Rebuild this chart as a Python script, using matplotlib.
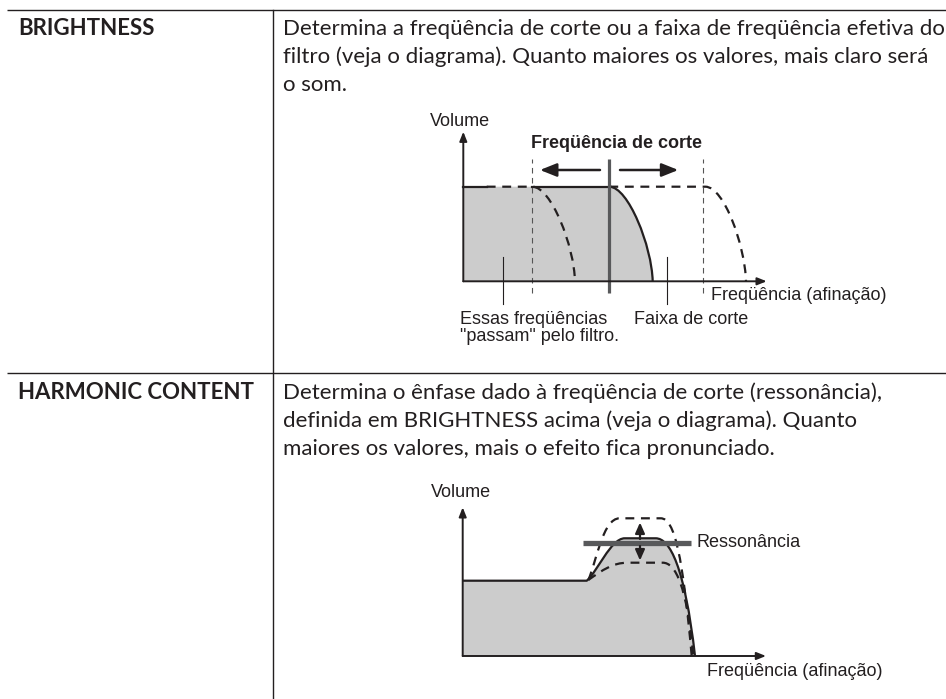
import matplotlib
matplotlib.use("Agg")
import matplotlib.pyplot as plt
from matplotlib.path import Path
from matplotlib.patches import PathPatch

W, H = 946, 699

# ---- table text ----
row_titles = ["BRIGHTNESS", "HARMONIC CONTENT"]
row1_lines = [
    "Determina a freqüência de corte ou a faixa de freqüência efetiva do",
    "filtro (veja o diagrama). Quanto maiores os valores, mais claro será",
    "o som.",
]
row2_lines = [
    "Determina o ênfase dado à freqüência de corte (ressonância),",
    "definida em BRIGHTNESS acima (veja o diagrama). Quanto",
    "maiores os valores, mais o efeito fica pronunciado.",
]
row_top = [9.5, 372.7]         # px from top
col_split = 272.7
baseline_first = [35.0, 399.0]
line_step = 28

# ---- diagram 1 (brightness), units = px from the origin ----
d1_origin = (463.3, 281.3)
d1_xmax, d1_ymax = 303.4, 149.6
d1_level = 94.6
d1_cut = 146.0                    # current cutoff (solid)
d1_cut_low, d1_cut_high = 68.7, 240.0
d1_cur = [(146, 94.6), (165, 94.6), (188.5, 35), (189.4, 0)]
d1_low = [(69, 94.6), (88, 94.6), (110.8, 35), (111.7, 0)]
d1_high = [(242, 94.6), (261, 94.6), (281.8, 35), (282.7, 0)]
d1_low_dash_start = 23.4
d1_pointers = [40.0, 204.0]

# ---- diagram 2 (harmonic content) ----
d2_origin = (462.7, 656.0)
d2_xmax, d2_ymax = 303.3, 148.7
d2_level = 75.3
d2_solid_up = [(124, 75.3), (134, 83), (148, 117.7), (162, 117.7)]
d2_solid_dn = [(193, 117.7), (207, 117.7), (222, 90), (232.3, 0)]
d2_high_up = [(125.6, 76), (134, 95), (140, 137.7), (157, 137.7)]
d2_high_dn = [(198, 137.7), (212, 137.7), (220, 100), (229, 0)]
d2_low_up = [(125.6, 76), (140, 86), (150, 93.3), (165, 93.3)]
d2_low_dn = [(200, 93.3), (213, 93.3), (224, 70), (230.6, 0)]
d2_bar = (120.6, 228.0, 113.3)
d2_arrow_x = 177.3

ink = "#231f20"
fill_grey = "#cccccc"
mid_grey = "#58595b"
body_font = ["Lato", "DejaVu Sans"]
diag_font = ["Liberation Sans", "DejaVu Sans"]

fig = plt.figure(figsize=(W / 100, H / 100), dpi=100)
ax = fig.add_axes([0, 0, 1, 1])
ax.set_xlim(0, W)
ax.set_ylim(H, 0)
ax.axis("off")

# table rules
for y in row_top:
    ax.plot([7.3, W], [y, y], color=ink, lw=1.0, solid_capstyle="butt")
ax.plot([col_split, col_split], [row_top[0], H], color=ink, lw=1.0)

for title, lines, b0 in zip(row_titles, [row1_lines, row2_lines], baseline_first):
    ax.text(18, b0, title, family=body_font, weight="bold", fontsize=16,
            va="baseline", ha="left", color=ink)
    for i, ln in enumerate(lines):
        ax.text(283, b0 + i * line_step, ln, family=body_font, fontsize=16,
                va="baseline", ha="left", color=ink)


def diagram_axes(origin, xmax, ymax):
    ox, oy = origin
    a = fig.add_axes([ox / W, 1 - oy / H, xmax / W, ymax / H])
    a.set_xlim(0, xmax)
    a.set_ylim(0, ymax)
    a.axis("off")
    return a


def bez_path(parts, start=None, close=None):
    verts, codes = [], []
    if start is not None:
        verts += start
        codes += [Path.MOVETO] + [Path.LINETO] * (len(start) - 1)
    for p in parts:
        if not verts:
            verts.append(p[0]); codes.append(Path.MOVETO)
        else:
            verts.append(p[0]); codes.append(Path.LINETO)
        verts += p[1:]
        codes += [Path.CURVE4] * 3
    if close is not None:
        verts += close
        codes += [Path.LINETO] * len(close)
    return Path(verts, codes)


def axis_arrows(a, xmax, ymax):
    st = dict(arrowstyle="-|>,head_length=0.55,head_width=0.22", lw=1.4,
              color=ink, shrinkA=0, shrinkB=0, mutation_scale=10)
    a.annotate("", xy=(0, ymax), xytext=(0, 0), arrowprops=st, annotation_clip=False)
    a.annotate("", xy=(xmax, 0), xytext=(0, 0), arrowprops=st, annotation_clip=False)


# ---------- diagram 1 ----------
a1 = diagram_axes(d1_origin, d1_xmax, d1_ymax)
fill1 = bez_path([d1_cur], start=[(0, 0), (0, d1_level)], close=[(0, 0)])
a1.add_patch(PathPatch(fill1, facecolor=fill_grey, edgecolor="none", clip_on=False))
a1.add_patch(PathPatch(bez_path([d1_cur]), facecolor="none", edgecolor=ink, lw=1.6,
                       clip_on=False))
a1.plot([0, d1_low_dash_start], [d1_level, d1_level], color=ink, lw=1.6, clip_on=False)
a1.plot([d1_low[0][0], d1_cut], [d1_level, d1_level], color=ink, lw=1.6, clip_on=False)
dash_kw = dict(facecolor="none", edgecolor=ink, lw=1.6, linestyle=(0, (4, 3)), clip_on=False)
a1.add_patch(PathPatch(bez_path([d1_low], start=[(d1_low_dash_start, d1_level)]), **dash_kw))
a1.add_patch(PathPatch(bez_path([d1_high], start=[(d1_cut, d1_level)]), **dash_kw))
for xv in (d1_cut_low, d1_cut_high):
    a1.plot([xv, xv], [-11.5, 122], color="#555555", lw=0.8, linestyle=(0, (5, 4)),
            clip_on=False)
a1.plot([d1_cut, d1_cut], [-12, 122], color=mid_grey, lw=2.3, clip_on=False,
        solid_capstyle="butt")
axis_arrows(a1, d1_xmax, d1_ymax)
big = dict(arrowstyle="-|>,head_length=0.5,head_width=0.2", lw=1.8, color=ink,
           shrinkA=0, shrinkB=0, mutation_scale=20)
a1.annotate("", xy=(76.7, 111.3), xytext=(136.7, 111.3), arrowprops=big,
            annotation_clip=False)
a1.annotate("", xy=(215.0, 111.3), xytext=(156.7, 111.3), arrowprops=big,
            annotation_clip=False)
for xv in d1_pointers:
    a1.plot([xv, xv], [24.6, -22.3], color=ink, lw=0.8, clip_on=False)
a1.text(-3.3, d1_ymax + 10, "Volume", family=diag_font, fontsize=13, ha="center",
        va="center", color=ink)
a1.text(153.4, 138, "Freqüência de corte", family=diag_font, fontsize=13,
        weight="bold", ha="center", va="center", color=ink)
a1.text(247.4, -14.7, "Freqüência (afinação)", family=diag_font, fontsize=13,
        ha="left", va="center", color=ink)
a1.text(-3.3, -38.7, "Essas freqüências", family=diag_font, fontsize=13,
        ha="left", va="center", color=ink)
a1.text(-3.3, -55.4, "\"passam\" pelo filtro.", family=diag_font, fontsize=13,
        ha="left", va="center", color=ink)
a1.text(228, -38.7, "Faixa de corte", family=diag_font, fontsize=13,
        ha="center", va="center", color=ink)

# ---------- diagram 2 ----------
a2 = diagram_axes(d2_origin, d2_xmax, d2_ymax)
fill2 = bez_path([d2_solid_up, d2_solid_dn], start=[(0, 0), (0, d2_level)],
                 close=[(0, 0)])
a2.add_patch(PathPatch(fill2, facecolor=fill_grey, edgecolor="none", clip_on=False))
a2.add_patch(PathPatch(bez_path([d2_solid_up, d2_solid_dn], start=[(0, d2_level)]),
                       facecolor="none", edgecolor=ink, lw=1.6, clip_on=False))
a2.add_patch(PathPatch(bez_path([d2_high_up, d2_high_dn]), **dash_kw))
a2.add_patch(PathPatch(bez_path([d2_low_up, d2_low_dn]), **dash_kw))
a2.plot([d2_bar[0], d2_bar[1]], [d2_bar[2], d2_bar[2]], color=mid_grey, lw=3.8,
        solid_capstyle="butt", clip_on=False)
axis_arrows(a2, d2_xmax, d2_ymax)
small = dict(arrowstyle="-|>,head_length=0.45,head_width=0.2", lw=1.6, color=ink,
             shrinkA=0, shrinkB=0, mutation_scale=14)
a2.annotate("", xy=(d2_arrow_x, 133.5), xytext=(d2_arrow_x, 117), arrowprops=small,
            annotation_clip=False)
a2.annotate("", xy=(d2_arrow_x, 95.5), xytext=(d2_arrow_x, 110), arrowprops=small,
            annotation_clip=False)
a2.text(-2, d2_ymax + 14.6, "Volume", family=diag_font, fontsize=13, ha="center",
        va="center", color=ink)
a2.text(234, d2_bar[2], "Ressonância", family=diag_font, fontsize=13, ha="left",
        va="center", color=ink)
a2.text(244, -15.7, "Freqüência (afinação)", family=diag_font, fontsize=13,
        ha="left", va="center", color=ink)

fig.savefig("out.png", dpi=100)
